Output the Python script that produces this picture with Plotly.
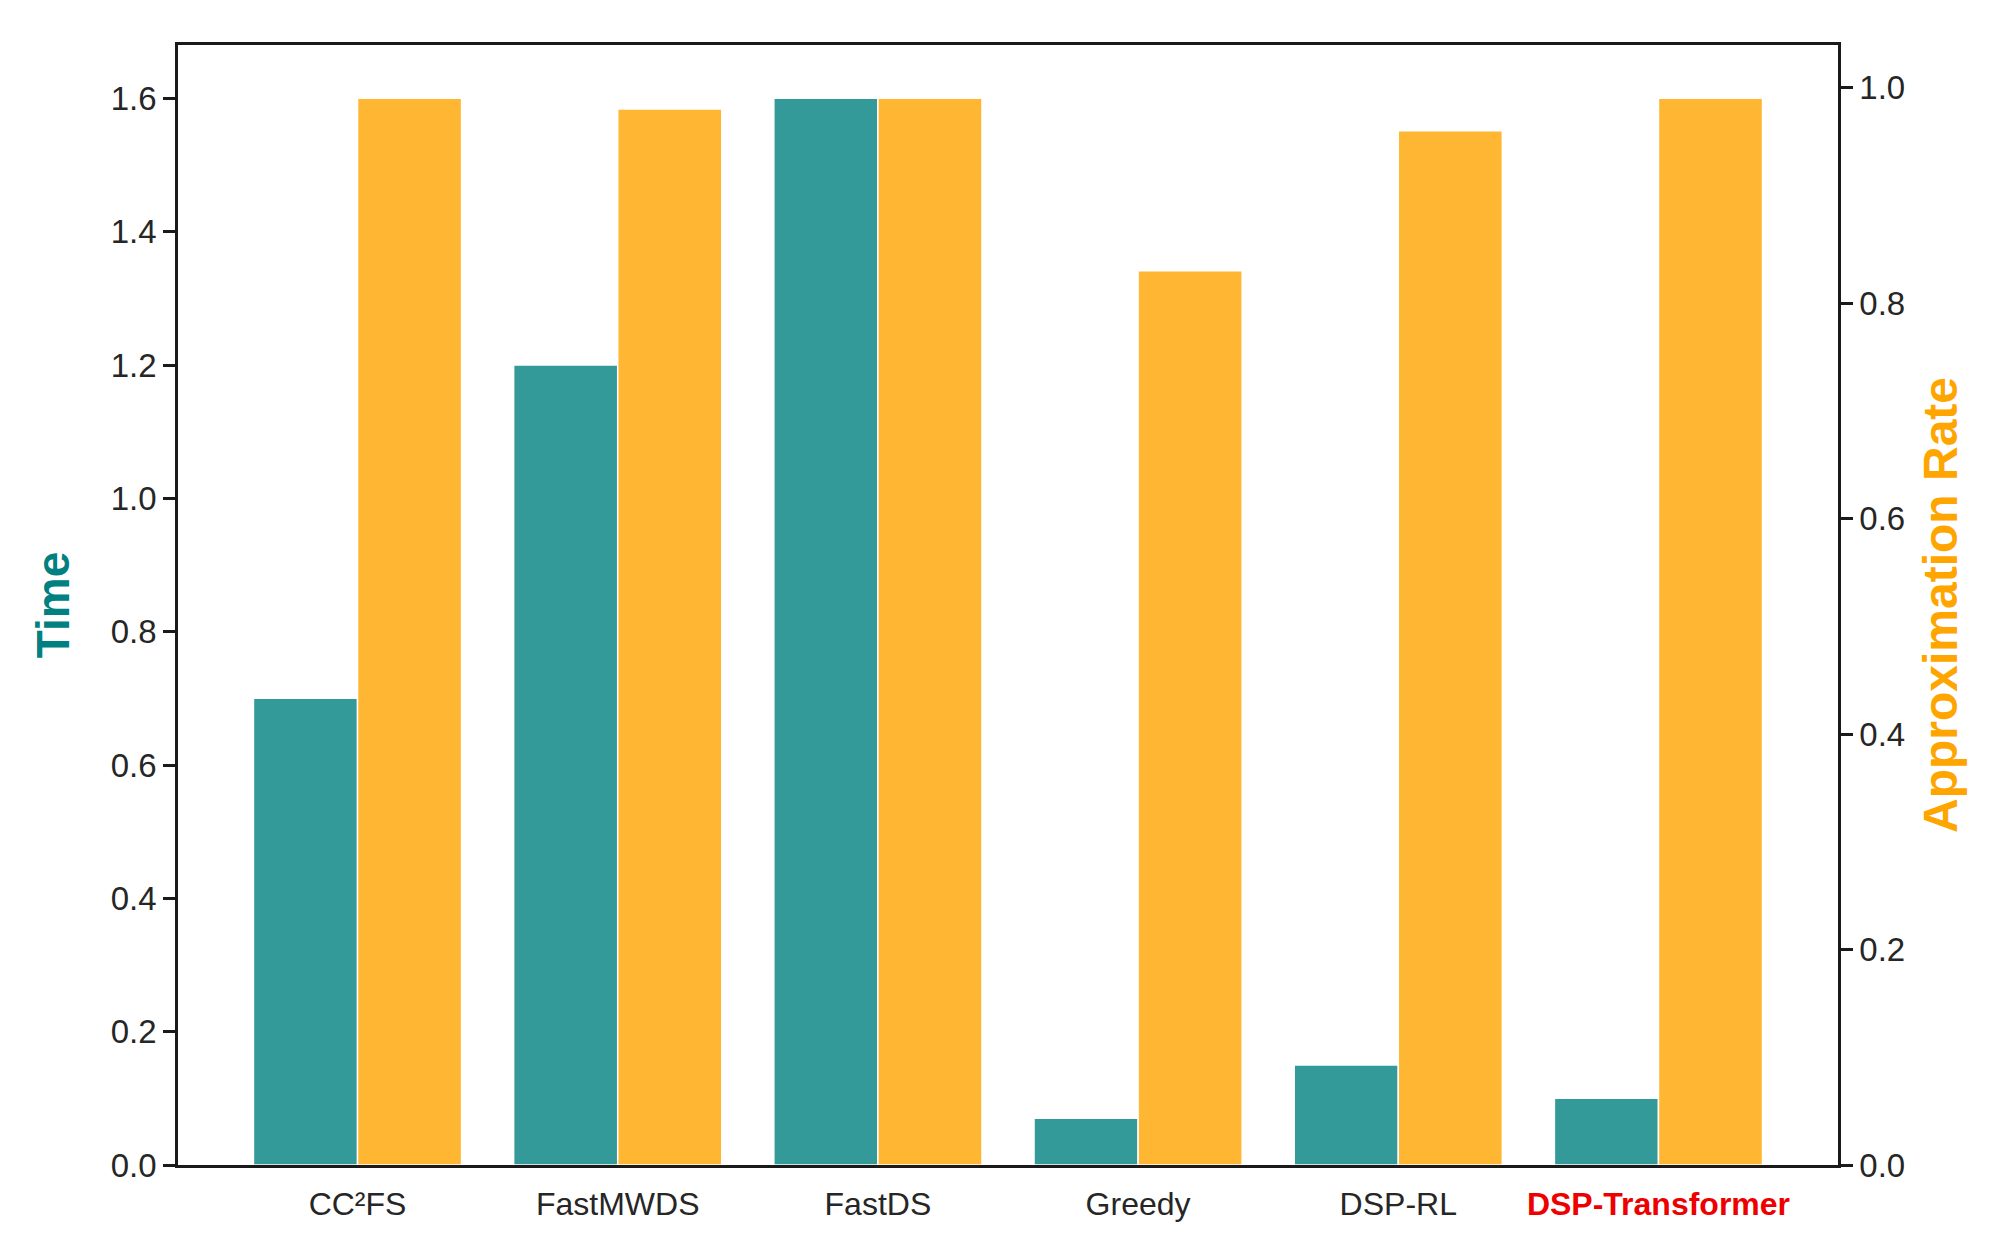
import plotly.graph_objects as go

categories = ["CC²FS", "FastMWDS", "FastDS", "Greedy", "DSP-RL", "DSP-Transformer"]
time_values = [0.7, 1.2, 1.6, 0.07, 0.15, 0.1]
approx_values = [0.99, 0.98, 0.99, 0.83, 0.96, 0.99]
left_ticks = [0.0, 0.2, 0.4, 0.6, 0.8, 1.0, 1.2, 1.4, 1.6]
right_ticks = [0.0, 0.2, 0.4, 0.6, 0.8, 1.0]

xpos = list(range(len(categories)))
ticktext = [c if c != "DSP-Transformer" else
            '<span style="color:#EE0000"><b>%s</b></span>' % c for c in categories]

FONT = "Liberation Sans, Arial, sans-serif"
TEAL = "#008080"
ORANGE = "#FFA500"

fig = go.Figure()
fig.add_trace(go.Bar(
    x=xpos, y=time_values, width=0.4, offset=-0.4,
    marker=dict(color="rgba(0,128,128,0.8)", line=dict(color="white", width=1.5)),
    yaxis="y", name="Time", showlegend=False))
fig.add_trace(go.Bar(
    x=xpos, y=approx_values, width=0.4, offset=0.0,
    marker=dict(color="rgba(255,165,0,0.8)", line=dict(color="white", width=1.5)),
    yaxis="y2", name="Approximation Rate", showlegend=False))

axis_common = dict(showline=True, linecolor="#1a1a1a", linewidth=2.5, showgrid=False,
                   zeroline=False, ticks="outside", ticklen=12, tickwidth=2.5,
                   tickcolor="#1a1a1a", tickfont=dict(family=FONT, size=33, color="#262626"))

fig.update_layout(
    width=2000, height=1250,
    margin=dict(l=170, r=170, t=37, b=93),
    plot_bgcolor="white", paper_bgcolor="white",
    barmode="overlay",
    font=dict(family=FONT),
    xaxis=dict(range=[-0.69, 5.69], tickvals=xpos, ticktext=ticktext,
               showline=True, linecolor="#1a1a1a", linewidth=2.5, mirror=True,
               showgrid=False, zeroline=False, ticks="outside", ticklen=9,
               tickcolor="rgba(0,0,0,0)",
               tickfont=dict(family=FONT, size=32, color="#262626")),
    yaxis=dict(range=[0, 1.68], tickvals=left_ticks, tickformat=".1f",
               title=dict(text="<b>Time</b>", font=dict(family=FONT, size=46, color=TEAL), standoff=27),
               **axis_common),
    yaxis2=dict(range=[0, 1.0395], tickvals=right_ticks, tickformat=".1f",
                overlaying="y", side="right",
                title=dict(text="<b>Approximation Rate</b>", font=dict(family=FONT, size=48, color=ORANGE), standoff=20),
                **axis_common),
)

fig.write_html("out.html")
